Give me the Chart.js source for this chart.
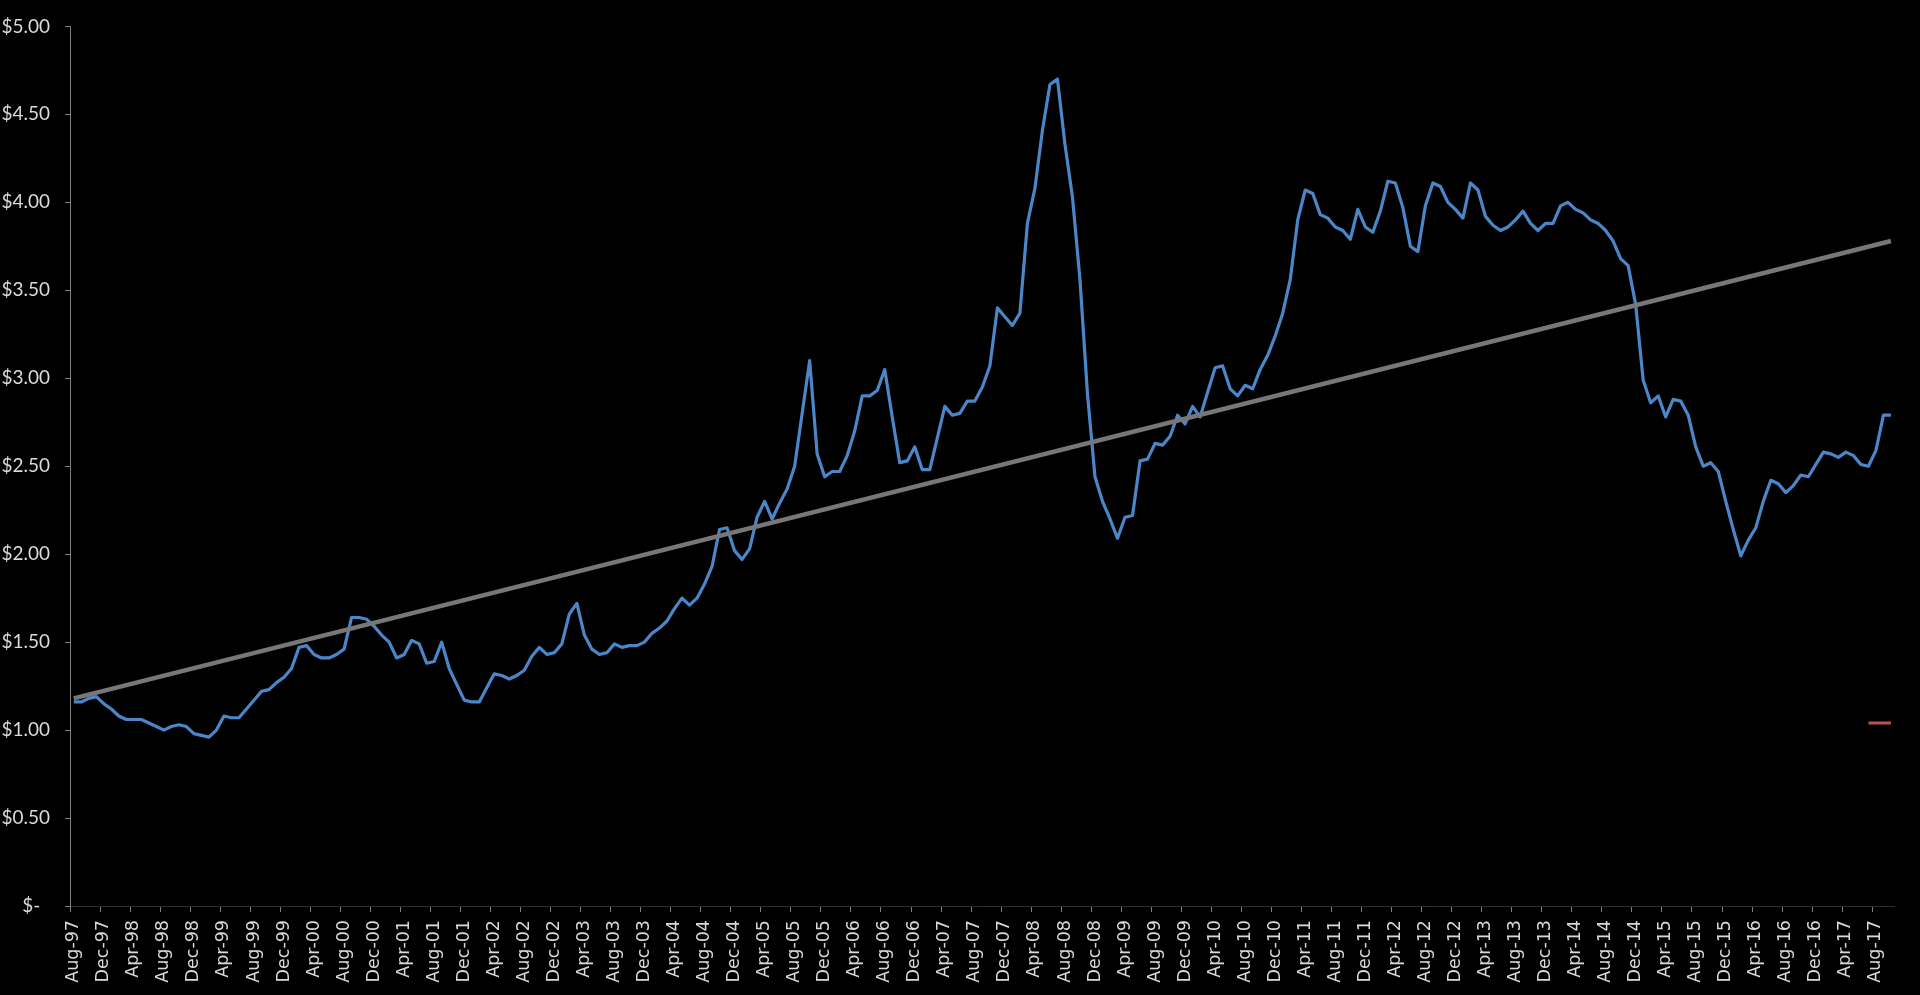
<!DOCTYPE html>
<html>
<head>
<meta charset="utf-8">
<script src="https://cdn.jsdelivr.net/npm/chart.js@4.4.0/dist/chart.umd.min.js"></script>
<style>
  html, body { margin: 0; padding: 0; background: #000; overflow: hidden; }
  #wrap { position: relative; width: 1920px; height: 995px; }
</style>
</head>
<body>
<div id="wrap"><canvas id="c" width="1920" height="995"></canvas></div>
<script>
// ---- Data ----
const MONTH_NAMES = ['Jan','Feb','Mar','Apr','May','Jun','Jul','Aug','Sep','Oct','Nov','Dec'];
const FIRST_MONTH_INDEX = 7;   // Aug
const FIRST_YEAR = 1997;
const MONTH_COUNT = 243;       // Aug-97 .. Oct-17
const categories = [];
for (let k = 0; k < MONTH_COUNT; k++) {
  const m = (FIRST_MONTH_INDEX + k) % 12;
  const y = (FIRST_YEAR + Math.floor((FIRST_MONTH_INDEX + k) / 12)) % 100;
  categories.push(MONTH_NAMES[m] + '-' + String(y).padStart(2, '0'));
}

const prices = [
  1.16,1.16,1.18,1.19,1.15,1.12,1.08,1.06,1.06,1.06,
  1.04,1.02,1.00,1.02,1.03,1.02,0.98,0.97,0.96,1.00,
  1.08,1.07,1.07,1.12,1.17,1.22,1.23,1.27,1.30,1.35,
  1.47,1.48,1.43,1.41,1.41,1.43,1.46,1.64,1.64,1.63,
  1.59,1.54,1.50,1.41,1.43,1.51,1.49,1.38,1.39,1.50,
  1.35,1.26,1.17,1.16,1.16,1.24,1.32,1.31,1.29,1.31,
  1.34,1.42,1.47,1.43,1.44,1.49,1.66,1.72,1.54,1.46,
  1.43,1.44,1.49,1.47,1.48,1.48,1.50,1.55,1.58,1.62,
  1.69,1.75,1.71,1.75,1.83,1.93,2.14,2.15,2.02,1.97,
  2.03,2.21,2.30,2.20,2.29,2.37,2.50,2.80,3.10,2.57,
  2.44,2.47,2.47,2.56,2.70,2.90,2.90,2.93,3.05,2.78,
  2.52,2.53,2.61,2.48,2.48,2.66,2.84,2.79,2.80,2.87,
  2.87,2.95,3.07,3.40,3.35,3.30,3.37,3.88,4.08,4.41,
  4.67,4.70,4.33,4.03,3.56,2.91,2.44,2.30,2.20,2.09,
  2.21,2.22,2.53,2.54,2.63,2.62,2.67,2.79,2.74,2.84,
  2.78,2.92,3.06,3.07,2.94,2.90,2.96,2.94,3.05,3.13,
  3.24,3.37,3.56,3.90,4.07,4.05,3.93,3.91,3.86,3.84,
  3.79,3.96,3.86,3.83,3.95,4.12,4.11,3.97,3.75,3.72,
  3.98,4.11,4.09,4.00,3.96,3.91,4.11,4.07,3.92,3.87,
  3.84,3.86,3.90,3.95,3.88,3.84,3.88,3.88,3.98,4.00,
  3.96,3.94,3.90,3.88,3.84,3.78,3.68,3.64,3.42,2.99,
  2.86,2.90,2.78,2.88,2.87,2.79,2.61,2.50,2.52,2.47,
  2.30,2.14,1.99,2.08,2.15,2.30,2.42,2.40,2.35,2.39,
  2.45,2.44,2.51,2.58,2.57,2.55,2.58,2.56,2.51,2.50,
  2.59,2.79,2.79
];

// Trend line end values
const trendStart = 1.18;
const trendEnd = 3.78;

// Small red marker at the right
const redMarkValue = 1.04;
const redMarkFrom = 239;
const redMarkTo = 242;

const yTickValues = [0, 0.5, 1, 1.5, 2, 2.5, 3, 3.5, 4, 4.5, 5];
const xLabelEvery = 4;

// ---- Derived datasets ----
const trendData = categories.map((_, i) => i === 0 ? trendStart : (i === categories.length - 1 ? trendEnd : null));
const redData = categories.map((_, i) => (i >= redMarkFrom && i <= redMarkTo) ? redMarkValue : null);

const bgPlugin = {
  id: 'bg',
  beforeDraw(chart) {
    const ctx = chart.ctx;
    ctx.save();
    ctx.fillStyle = '#000';
    ctx.fillRect(0, 0, chart.width, chart.height);
    ctx.restore();
  }
};

const tickCol = (ctx) => (ctx.index % xLabelEvery === 0 ? '#808080' : 'rgba(0,0,0,0)');

new Chart(document.getElementById('c'), {
  type: 'line',
  data: {
    labels: categories,
    datasets: [
      {
        label: 'Trend',
        data: trendData,
        borderColor: '#777777',
        borderWidth: 4.5,
        pointRadius: 0,
        spanGaps: true,
        tension: 0
      },
      {
        label: 'Red',
        data: redData,
        borderColor: '#c0504d',
        borderWidth: 3,
        pointRadius: 0,
        spanGaps: false,
        tension: 0
      },
      {
        label: 'Price',
        data: prices,
        borderColor: '#4a86c8',
        borderWidth: 3.2,
        pointRadius: 0,
        tension: 0,
        borderJoinStyle: 'round'
      }
    ]
  },
  plugins: [bgPlugin],
  options: {
    responsive: false,
    animation: false,
    devicePixelRatio: 1,
    layout: { padding: { top: 23, right: 19, left: 0, bottom: 0 } },
    plugins: { legend: { display: false }, tooltip: { enabled: false } },
    scales: {
      x: {
        type: 'category',
        offset: true,
        grid: {
          offset: true,
          drawOnChartArea: false,
          drawTicks: true,
          tickLength: 6,
          color: tickCol,
          tickColor: tickCol,
          lineWidth: 1
        },
        border: { display: true, color: '#2e2e2e', width: 1 },
        ticks: {
          autoSkip: false,
          maxRotation: 90,
          minRotation: 90,
          padding: 8,
          color: '#d9d9d9',
          font: { family: 'DejaVu Sans', size: 17.5 },
          callback: (v, i) => (i % xLabelEvery === 0 ? categories[i] : '')
        },
        afterFit: (s) => { s.height = 89; }
      },
      y: {
        min: 0,
        max: 5,
        afterBuildTicks: (s) => { s.ticks = yTickValues.map(v => ({ value: v })); },
        grid: {
          drawOnChartArea: false,
          drawTicks: true,
          tickLength: 5,
          color: '#808080',
          tickColor: '#808080'
        },
        border: { display: true, color: '#808080', width: 1 },
        ticks: {
          padding: 15,
          color: '#d9d9d9',
          font: { family: 'Lato', size: 19 },
          callback: (v) => (v === 0 ? '$-  ' : '$' + Number(v).toFixed(2))
        },
        afterFit: (s) => { s.width = 70; }
      }
    }
  }
});
</script>
</body>
</html>
